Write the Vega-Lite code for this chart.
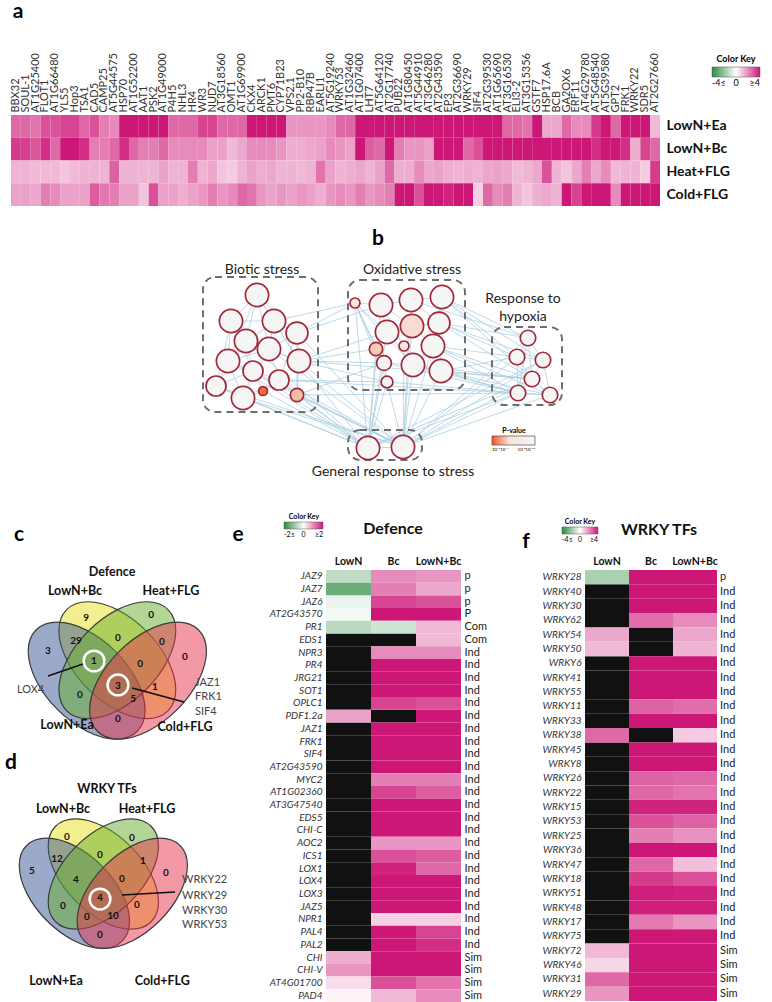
{
  "$schema": "https://vega.github.io/schema/vega-lite/v6.json",
  "background": "white",
  "padding": {"left": 5, "top": 1, "right": 0, "bottom": 0},
  "config": {"font": "Lato", "view": {"stroke": null}},
  "datasets": {
    "heatA": [
      {"g":"BBX32","LowN+Ea":2.6,"LowN+Bc":3.4,"Heat+FLG":1.3,"Cold+FLG":1.6},
      {"g":"SOUL-1","LowN+Ea":2.6,"LowN+Bc":3.3,"Heat+FLG":1.3,"Cold+FLG":1.6},
      {"g":"AT1G25400","LowN+Ea":2.4,"LowN+Bc":2.9,"Heat+FLG":1.2,"Cold+FLG":1.5},
      {"g":"FLOT1","LowN+Ea":3.0,"LowN+Bc":3.6,"Heat+FLG":1.2,"Cold+FLG":2.2},
      {"g":"AT1G66480","LowN+Ea":3.0,"LowN+Bc":2.6,"Heat+FLG":1.2,"Cold+FLG":2.0},
      {"g":"YLS5","LowN+Ea":3.2,"LowN+Bc":4,"Heat+FLG":1.0,"Cold+FLG":1.6},
      {"g":"Hop3","LowN+Ea":3.2,"LowN+Bc":4,"Heat+FLG":1.2,"Cold+FLG":1.6},
      {"g":"TSA1","LowN+Ea":2.6,"LowN+Bc":3.6,"Heat+FLG":1.3,"Cold+FLG":1.6},
      {"g":"CAD5","LowN+Ea":3.0,"LowN+Bc":2.2,"Heat+FLG":1.3,"Cold+FLG":2.8},
      {"g":"CAMP25","LowN+Ea":2.2,"LowN+Bc":2.2,"Heat+FLG":1.3,"Cold+FLG":2.3},
      {"g":"AT5G44575","LowN+Ea":2.0,"LowN+Bc":2.6,"Heat+FLG":2.7,"Cold+FLG":2.2},
      {"g":"HSP70","LowN+Ea":4,"LowN+Bc":3.6,"Heat+FLG":1.3,"Cold+FLG":1.6},
      {"g":"AT1G52200","LowN+Ea":4,"LowN+Bc":2.6,"Heat+FLG":1.3,"Cold+FLG":1.6},
      {"g":"AAT1","LowN+Ea":4,"LowN+Bc":2.2,"Heat+FLG":1.3,"Cold+FLG":1.0},
      {"g":"PSK2","LowN+Ea":4,"LowN+Bc":2.2,"Heat+FLG":1.3,"Cold+FLG":3.0},
      {"g":"AT1G49000","LowN+Ea":4,"LowN+Bc":2.6,"Heat+FLG":1.6,"Cold+FLG":1.6},
      {"g":"P4H5","LowN+Ea":2.6,"LowN+Bc":2.0,"Heat+FLG":1.3,"Cold+FLG":1.6},
      {"g":"NHL3","LowN+Ea":2.6,"LowN+Bc":2.0,"Heat+FLG":1.3,"Cold+FLG":1.4},
      {"g":"HR4","LowN+Ea":2.6,"LowN+Bc":2.0,"Heat+FLG":2.2,"Cold+FLG":1.6},
      {"g":"WR3","LowN+Ea":3.2,"LowN+Bc":2.0,"Heat+FLG":1.3,"Cold+FLG":1.8},
      {"g":"NUD7","LowN+Ea":3.2,"LowN+Bc":1.6,"Heat+FLG":1.5,"Cold+FLG":2.2},
      {"g":"AT3G18560","LowN+Ea":2.6,"LowN+Bc":1.6,"Heat+FLG":1.0,"Cold+FLG":1.8},
      {"g":"OMT1","LowN+Ea":2.6,"LowN+Bc":1.2,"Heat+FLG":0.9,"Cold+FLG":2.0},
      {"g":"AT1G69900","LowN+Ea":2.6,"LowN+Bc":1.5,"Heat+FLG":1.3,"Cold+FLG":2.6},
      {"g":"CKX4","LowN+Ea":4,"LowN+Bc":2.0,"Heat+FLG":1.6,"Cold+FLG":2.4},
      {"g":"ARCK1","LowN+Ea":4,"LowN+Bc":2.0,"Heat+FLG":1.4,"Cold+FLG":1.8},
      {"g":"PMT6","LowN+Ea":4,"LowN+Bc":2.0,"Heat+FLG":1.5,"Cold+FLG":1.6},
      {"g":"CYP71B23","LowN+Ea":4,"LowN+Bc":1.8,"Heat+FLG":1.3,"Cold+FLG":1.8},
      {"g":"VPS2.1","LowN+Ea":1.8,"LowN+Bc":1.4,"Heat+FLG":1.3,"Cold+FLG":1.6},
      {"g":"PP2-B10","LowN+Ea":1.8,"LowN+Bc":1.4,"Heat+FLG":1.2,"Cold+FLG":1.8},
      {"g":"RBP47B","LowN+Ea":1.8,"LowN+Bc":1.5,"Heat+FLG":1.3,"Cold+FLG":1.6},
      {"g":"EARLI1","LowN+Ea":1.8,"LowN+Bc":1.6,"Heat+FLG":2.4,"Cold+FLG":1.4},
      {"g":"AT5G19240","LowN+Ea":2.0,"LowN+Bc":2.0,"Heat+FLG":1.6,"Cold+FLG":1.8},
      {"g":"WRKY53","LowN+Ea":2.6,"LowN+Bc":1.8,"Heat+FLG":1.3,"Cold+FLG":2.0},
      {"g":"AT1G32460","LowN+Ea":2.6,"LowN+Bc":1.6,"Heat+FLG":1.4,"Cold+FLG":1.8},
      {"g":"AT1G07400","LowN+Ea":4,"LowN+Bc":4,"Heat+FLG":1.5,"Cold+FLG":2.2},
      {"g":"LHT7","LowN+Ea":4,"LowN+Bc":2.8,"Heat+FLG":1.3,"Cold+FLG":1.8},
      {"g":"AT5G64120","LowN+Ea":4,"LowN+Bc":2.6,"Heat+FLG":1.6,"Cold+FLG":2.0},
      {"g":"AT2G17740","LowN+Ea":4,"LowN+Bc":4,"Heat+FLG":2.6,"Cold+FLG":2.2},
      {"g":"PUB22","LowN+Ea":4,"LowN+Bc":2.2,"Heat+FLG":1.4,"Cold+FLG":4},
      {"g":"AT1G80450","LowN+Ea":4,"LowN+Bc":1.8,"Heat+FLG":1.4,"Cold+FLG":4},
      {"g":"AT5G44910","LowN+Ea":4,"LowN+Bc":1.8,"Heat+FLG":2.0,"Cold+FLG":3.0},
      {"g":"AT3G46280","LowN+Ea":4,"LowN+Bc":1.6,"Heat+FLG":1.5,"Cold+FLG":4},
      {"g":"AT2G43590","LowN+Ea":4,"LowN+Bc":4,"Heat+FLG":1.6,"Cold+FLG":4},
      {"g":"EP3","LowN+Ea":4,"LowN+Bc":4,"Heat+FLG":1.4,"Cold+FLG":3.8},
      {"g":"AT2G36690","LowN+Ea":4,"LowN+Bc":4,"Heat+FLG":1.3,"Cold+FLG":4},
      {"g":"WRKY29","LowN+Ea":4,"LowN+Bc":2.6,"Heat+FLG":1.4,"Cold+FLG":4},
      {"g":"SIF4","LowN+Ea":4,"LowN+Bc":3.0,"Heat+FLG":1.3,"Cold+FLG":0.8},
      {"g":"AT2G39530","LowN+Ea":4,"LowN+Bc":4,"Heat+FLG":1.5,"Cold+FLG":2.6},
      {"g":"AT1G65690","LowN+Ea":4,"LowN+Bc":4,"Heat+FLG":1.6,"Cold+FLG":2.0},
      {"g":"AT3G16530","LowN+Ea":2.6,"LowN+Bc":4,"Heat+FLG":1.5,"Cold+FLG":2.2},
      {"g":"ELI3-2","LowN+Ea":2.6,"LowN+Bc":4,"Heat+FLG":1.2,"Cold+FLG":1.3},
      {"g":"AT3G15356","LowN+Ea":2.4,"LowN+Bc":4,"Heat+FLG":1.3,"Cold+FLG":1.0},
      {"g":"GSTF7","LowN+Ea":4,"LowN+Bc":4,"Heat+FLG":1.5,"Cold+FLG":1.4},
      {"g":"HSP17.6A","LowN+Ea":1.5,"LowN+Bc":4,"Heat+FLG":3.0,"Cold+FLG":1.5},
      {"g":"BCB","LowN+Ea":1.5,"LowN+Bc":4,"Heat+FLG":1.3,"Cold+FLG":1.3},
      {"g":"GA2OX6","LowN+Ea":2.6,"LowN+Bc":4,"Heat+FLG":1.0,"Cold+FLG":4},
      {"g":"ERF11","LowN+Ea":2.0,"LowN+Bc":4,"Heat+FLG":1.5,"Cold+FLG":3.2},
      {"g":"AT4G29780","LowN+Ea":2.0,"LowN+Bc":4,"Heat+FLG":2.2,"Cold+FLG":4},
      {"g":"AT5G48540","LowN+Ea":3.4,"LowN+Bc":3.6,"Heat+FLG":1.5,"Cold+FLG":4},
      {"g":"AT5G39580","LowN+Ea":4,"LowN+Bc":4,"Heat+FLG":2.0,"Cold+FLG":4},
      {"g":"GPT2","LowN+Ea":2.6,"LowN+Bc":4,"Heat+FLG":1.2,"Cold+FLG":2.0},
      {"g":"FRK1","LowN+Ea":4,"LowN+Bc":3.6,"Heat+FLG":1.3,"Cold+FLG":4},
      {"g":"WRKY22","LowN+Ea":4,"LowN+Bc":1.4,"Heat+FLG":1.3,"Cold+FLG":4},
      {"g":"SDR5","LowN+Ea":4,"LowN+Bc":3.2,"Heat+FLG":0.9,"Cold+FLG":4},
      {"g":"AT2G27660","LowN+Ea":1.2,"LowN+Bc":2.6,"Heat+FLG":3.4,"Cold+FLG":4}
    ],
    "nodes": [
      {"id":"B1","x":61.5,"y":46.25,"genes":27,"logp":12},
      {"id":"B2","x":55,"y":39.75,"genes":27,"logp":12},
      {"id":"B3","x":65.75,"y":39.75,"genes":27,"logp":12},
      {"id":"B4","x":71.5,"y":36.75,"genes":24,"logp":12},
      {"id":"B5","x":58.75,"y":34.75,"genes":27,"logp":12},
      {"id":"B6","x":64.5,"y":32.75,"genes":27,"logp":12},
      {"id":"B7","x":54.25,"y":29.75,"genes":27,"logp":12},
      {"id":"B8","x":72,"y":29.75,"genes":27,"logp":12},
      {"id":"B9","x":60.5,"y":27.25,"genes":20,"logp":12},
      {"id":"B10","x":67,"y":25,"genes":20,"logp":12},
      {"id":"B11","x":51.25,"y":23.5,"genes":20,"logp":12},
      {"id":"B12","x":58,"y":20.5,"genes":27,"logp":12},
      {"id":"B13","x":63,"y":22.25,"genes":4,"logp":2.3},
      {"id":"B14","x":71.5,"y":21.25,"genes":9,"logp":4.0},
      {"id":"O1","x":86,"y":44.25,"genes":5,"logp":6},
      {"id":"O2","x":92.5,"y":43.75,"genes":27,"logp":12},
      {"id":"O3","x":100,"y":45,"genes":27,"logp":12},
      {"id":"O4","x":107.75,"y":45.75,"genes":27,"logp":12},
      {"id":"O5","x":94,"y":37,"genes":27,"logp":12},
      {"id":"O6","x":100.25,"y":38.5,"genes":27,"logp":4.8},
      {"id":"O7","x":107,"y":39.25,"genes":24,"logp":12},
      {"id":"O8","x":91.25,"y":32.75,"genes":9,"logp":4.3},
      {"id":"O9","x":98.25,"y":33.5,"genes":5,"logp":6},
      {"id":"O10","x":105.5,"y":33.5,"genes":27,"logp":12},
      {"id":"O11","x":93.25,"y":29.25,"genes":11,"logp":12},
      {"id":"O12","x":100.5,"y":28.75,"genes":27,"logp":12},
      {"id":"O13","x":107.5,"y":27.25,"genes":27,"logp":12},
      {"id":"O14","x":94,"y":24.5,"genes":7,"logp":12},
      {"id":"H1","x":129.25,"y":35.5,"genes":12,"logp":12},
      {"id":"H2","x":126.5,"y":30.75,"genes":12,"logp":12},
      {"id":"H3","x":133,"y":30,"genes":12,"logp":12},
      {"id":"H4","x":130.25,"y":25.25,"genes":12,"logp":12},
      {"id":"H5","x":126.75,"y":21.75,"genes":12,"logp":12},
      {"id":"H6","x":134.75,"y":21.25,"genes":12,"logp":12},
      {"id":"G1","x":89.25,"y":8,"genes":27,"logp":12},
      {"id":"G2","x":98,"y":8.25,"genes":27,"logp":12}
    ],
    "edges": [
      {"s":"B1","t":"B2"},{"s":"B1","t":"B3"},{"s":"B1","t":"B5"},{"s":"B1","t":"B6"},{"s":"B1","t":"B4"},{"s":"B1","t":"B7"},
      {"s":"B2","t":"B3"},{"s":"B2","t":"B5"},{"s":"B2","t":"B7"},{"s":"B2","t":"B6"},{"s":"B3","t":"B4"},{"s":"B3","t":"B5"},
      {"s":"B3","t":"B6"},{"s":"B3","t":"B8"},{"s":"B4","t":"B6"},{"s":"B4","t":"B8"},{"s":"B5","t":"B6"},{"s":"B5","t":"B7"},
      {"s":"B5","t":"B9"},{"s":"B6","t":"B8"},{"s":"B6","t":"B9"},{"s":"B6","t":"B10"},{"s":"B7","t":"B9"},{"s":"B7","t":"B11"},
      {"s":"B7","t":"B12"},{"s":"B8","t":"B10"},{"s":"B8","t":"B14"},{"s":"B9","t":"B10"},{"s":"B9","t":"B12"},{"s":"B9","t":"B13"},
      {"s":"B10","t":"B13"},{"s":"B10","t":"B14"},{"s":"B11","t":"B12"},{"s":"B11","t":"B9"},{"s":"B12","t":"B13"},{"s":"B2","t":"B11"},
      {"s":"B4","t":"B10"},{"s":"B3","t":"B7"},{"s":"B5","t":"B8"},{"s":"B6","t":"B12"},{"s":"B1","t":"B8"},{"s":"B2","t":"B9"},
      {"s":"B11","t":"B5"},{"s":"B12","t":"B10"},{"s":"B7","t":"B6"},{"s":"B4","t":"B14"},
      {"s":"O1","t":"O2"},{"s":"O1","t":"O5"},{"s":"O1","t":"O8"},{"s":"O1","t":"O11"},{"s":"O1","t":"O14"},{"s":"O2","t":"O3"},
      {"s":"O2","t":"O5"},{"s":"O3","t":"O4"},{"s":"O3","t":"O6"},{"s":"O3","t":"O7"},{"s":"O4","t":"O7"},{"s":"O5","t":"O6"},
      {"s":"O5","t":"O8"},{"s":"O6","t":"O7"},{"s":"O6","t":"O9"},{"s":"O6","t":"O10"},{"s":"O7","t":"O10"},{"s":"O8","t":"O11"},
      {"s":"O9","t":"O12"},{"s":"O10","t":"O12"},{"s":"O10","t":"O13"},{"s":"O11","t":"O12"},{"s":"O12","t":"O13"},{"s":"O11","t":"O14"},
      {"s":"O2","t":"O6"},{"s":"O4","t":"O10"},{"s":"O5","t":"O12"},{"s":"O7","t":"O13"},{"s":"O1","t":"O12"},{"s":"O2","t":"O9"},
      {"s":"H1","t":"H2"},{"s":"H1","t":"H3"},{"s":"H1","t":"H4"},{"s":"H2","t":"H3"},{"s":"H2","t":"H4"},{"s":"H2","t":"H5"},
      {"s":"H3","t":"H4"},{"s":"H3","t":"H6"},{"s":"H4","t":"H5"},{"s":"H4","t":"H6"},{"s":"H5","t":"H6"},{"s":"H1","t":"H5"},
      {"s":"G1","t":"G2"},
      {"s":"B7","t":"G1"},{"s":"B11","t":"G1"},{"s":"B12","t":"G1"},{"s":"B9","t":"G1"},{"s":"B13","t":"G1"},{"s":"B10","t":"G1"},
      {"s":"B14","t":"G1"},{"s":"B8","t":"G1"},{"s":"B12","t":"G2"},{"s":"B10","t":"G2"},{"s":"B14","t":"G2"},{"s":"B8","t":"G2"},
      {"s":"B11","t":"G2"},{"s":"B4","t":"G2"},{"s":"B6","t":"G2"},{"s":"B9","t":"G2"},{"s":"B7","t":"G2"},{"s":"B5","t":"G1"},
      {"s":"O14","t":"G1"},{"s":"O11","t":"G1"},{"s":"O12","t":"G2"},{"s":"O13","t":"G2"},{"s":"O8","t":"G1"},{"s":"O10","t":"G2"},
      {"s":"O9","t":"G2"},{"s":"O1","t":"G1"},{"s":"O5","t":"G1"},{"s":"O6","t":"G2"},{"s":"O14","t":"G2"},{"s":"O2","t":"G1"},{"s":"O3","t":"G2"},
      {"s":"H5","t":"G2"},{"s":"H2","t":"G2"},{"s":"H4","t":"G2"},{"s":"H6","t":"G2"},{"s":"H1","t":"G2"},{"s":"H3","t":"G1"},{"s":"H5","t":"G1"},
      {"s":"H4","t":"G1"},{"s":"H3","t":"G2"},
      {"s":"O4","t":"H1"},{"s":"O4","t":"H3"},{"s":"O7","t":"H1"},{"s":"O7","t":"H2"},{"s":"O10","t":"H2"},{"s":"O10","t":"H4"},
      {"s":"O13","t":"H4"},{"s":"O13","t":"H5"},{"s":"O13","t":"H6"},{"s":"O7","t":"H3"},{"s":"O3","t":"H1"},{"s":"O4","t":"H6"},
      {"s":"O10","t":"H5"},{"s":"O12","t":"H5"},{"s":"O13","t":"H2"},{"s":"O7","t":"H4"},{"s":"O14","t":"H5"},{"s":"O11","t":"H5"},
      {"s":"O12","t":"H4"},{"s":"O4","t":"H2"},{"s":"O10","t":"H6"},
      {"s":"B4","t":"O1"},{"s":"B8","t":"O8"},{"s":"B14","t":"O11"},{"s":"B8","t":"O14"},{"s":"B3","t":"O1"},{"s":"B10","t":"O14"},
      {"s":"B4","t":"O2"},{"s":"B8","t":"O5"},{"s":"B8","t":"O11"},
      {"s":"B14","t":"H5"},{"s":"B10","t":"H6"},{"s":"B8","t":"H4"}
    ],
    "boxes": [
      {"name":"Biotic stress","x0":48,"x1":76.75,"y0":17,"y1":50.75},
      {"name":"Oxidative stress","x0":84.25,"x1":113.5,"y0":22.5,"y1":50},
      {"name":"Response to hypoxia","x0":120.25,"x1":137.75,"y0":18.75,"y1":38.25},
      {"name":"General response to stress","x0":84.25,"x1":102.75,"y0":5,"y1":12.5}
    ],
    "setsC": [
      {"set":"LowN+Bc","cx":0.5,"cy":0.57},
      {"set":"LowN+Ea","cx":0.35,"cy":0.47},
      {"set":"Heat+FLG","cx":0.5,"cy":0.57},
      {"set":"Cold+FLG","cx":0.65,"cy":0.47}
    ],
    "setsD": [
      {"set":"LowN+Bc","cx":0.4316,"cy":-0.4755},
      {"set":"LowN+Ea","cx":0.29,"cy":-0.57},
      {"set":"Heat+FLG","cx":0.4316,"cy":-0.4755},
      {"set":"Cold+FLG","cx":0.573,"cy":-0.57}
    ],
    "heatE": [
      {"gene":"JAZ9","LowN":-0.6,"Bc":1.0,"LowN+Bc":0.9,"cls":"p"},
      {"gene":"JAZ7","LowN":-1.4,"Bc":1.1,"LowN+Bc":0.75,"cls":"p"},
      {"gene":"JAZ6","LowN":-0.2,"Bc":1.6,"LowN+Bc":1.5,"cls":"p"},
      {"gene":"AT2G43570","LowN":-0.12,"Bc":2,"LowN+Bc":2,"cls":"P"},
      {"gene":"PR1","LowN":-0.65,"Bc":-0.45,"LowN+Bc":0.6,"cls":"Com"},
      {"gene":"EDS1","LowN":null,"Bc":null,"LowN+Bc":0.6,"cls":"Com"},
      {"gene":"NPR3","LowN":null,"Bc":1.0,"LowN+Bc":1.0,"cls":"Ind"},
      {"gene":"PR4","LowN":null,"Bc":2,"LowN+Bc":2,"cls":"Ind"},
      {"gene":"JRG21","LowN":null,"Bc":2,"LowN+Bc":2,"cls":"Ind"},
      {"gene":"SOT1","LowN":null,"Bc":2,"LowN+Bc":2,"cls":"Ind"},
      {"gene":"OPLC1","LowN":null,"Bc":1.6,"LowN+Bc":1.5,"cls":"Ind"},
      {"gene":"PDF1.2a","LowN":0.8,"Bc":null,"LowN+Bc":2,"cls":"Ind"},
      {"gene":"JAZ1","LowN":null,"Bc":2,"LowN+Bc":2,"cls":"Ind"},
      {"gene":"FRK1","LowN":null,"Bc":2,"LowN+Bc":2,"cls":"Ind"},
      {"gene":"SIF4","LowN":null,"Bc":2,"LowN+Bc":2,"cls":"Ind"},
      {"gene":"AT2G43590","LowN":null,"Bc":2,"LowN+Bc":2,"cls":"Ind"},
      {"gene":"MYC2","LowN":null,"Bc":1.1,"LowN+Bc":1.1,"cls":"Ind"},
      {"gene":"AT1G02360","LowN":null,"Bc":1.6,"LowN+Bc":1.4,"cls":"Ind"},
      {"gene":"AT3G47540","LowN":null,"Bc":2,"LowN+Bc":2,"cls":"Ind"},
      {"gene":"EDS5","LowN":null,"Bc":2,"LowN+Bc":2,"cls":"Ind"},
      {"gene":"CHI-C","LowN":null,"Bc":2,"LowN+Bc":2,"cls":"Ind"},
      {"gene":"AOC2","LowN":null,"Bc":0.9,"LowN+Bc":0.9,"cls":"Ind"},
      {"gene":"ICS1","LowN":null,"Bc":1.5,"LowN+Bc":1.4,"cls":"Ind"},
      {"gene":"LOX1","LowN":null,"Bc":1.9,"LowN+Bc":1.3,"cls":"Ind"},
      {"gene":"LOX4","LowN":null,"Bc":2,"LowN+Bc":2,"cls":"Ind"},
      {"gene":"LOX3","LowN":null,"Bc":2,"LowN+Bc":2,"cls":"Ind"},
      {"gene":"JAZ5","LowN":null,"Bc":2,"LowN+Bc":2,"cls":"Ind"},
      {"gene":"NPR1","LowN":null,"Bc":0.4,"LowN+Bc":0.4,"cls":"Ind"},
      {"gene":"PAL4","LowN":null,"Bc":2,"LowN+Bc":1.6,"cls":"Ind"},
      {"gene":"PAL2","LowN":null,"Bc":2,"LowN+Bc":1.8,"cls":"Ind"},
      {"gene":"CHI","LowN":0.7,"Bc":2,"LowN+Bc":2,"cls":"Sim"},
      {"gene":"CHI-V","LowN":0.9,"Bc":2,"LowN+Bc":2,"cls":"Sim"},
      {"gene":"AT4G01700","LowN":0.3,"Bc":1.5,"LowN+Bc":1.2,"cls":"Sim"},
      {"gene":"PAD4","LowN":0.1,"Bc":0.6,"LowN+Bc":1.0,"cls":"Sim"}
    ],
    "heatF": [
      {"gene":"WRKY28","LowN":-1.6,"Bc":4,"LowN+Bc":4,"cls":"p"},
      {"gene":"WRKY40","LowN":null,"Bc":4,"LowN+Bc":4,"cls":"Ind"},
      {"gene":"WRKY30","LowN":null,"Bc":4,"LowN+Bc":4,"cls":"Ind"},
      {"gene":"WRKY62","LowN":null,"Bc":2.5,"LowN+Bc":2.0,"cls":"Ind"},
      {"gene":"WRKY54","LowN":1.5,"Bc":null,"LowN+Bc":1.5,"cls":"Ind"},
      {"gene":"WRKY50","LowN":1.2,"Bc":null,"LowN+Bc":1.3,"cls":"Ind"},
      {"gene":"WRKY6","LowN":null,"Bc":4,"LowN+Bc":4,"cls":"Ind"},
      {"gene":"WRKY41","LowN":null,"Bc":4,"LowN+Bc":4,"cls":"Ind"},
      {"gene":"WRKY55","LowN":null,"Bc":4,"LowN+Bc":4,"cls":"Ind"},
      {"gene":"WRKY11","LowN":null,"Bc":2.7,"LowN+Bc":2.5,"cls":"Ind"},
      {"gene":"WRKY33","LowN":null,"Bc":4,"LowN+Bc":4,"cls":"Ind"},
      {"gene":"WRKY38","LowN":2.6,"Bc":null,"LowN+Bc":0.9,"cls":"Ind"},
      {"gene":"WRKY45","LowN":null,"Bc":4,"LowN+Bc":4,"cls":"Ind"},
      {"gene":"WRKY8","LowN":null,"Bc":4,"LowN+Bc":4,"cls":"Ind"},
      {"gene":"WRKY26","LowN":null,"Bc":2.7,"LowN+Bc":2.6,"cls":"Ind"},
      {"gene":"WRKY22","LowN":null,"Bc":2.6,"LowN+Bc":2.4,"cls":"Ind"},
      {"gene":"WRKY15","LowN":null,"Bc":3.8,"LowN+Bc":3.8,"cls":"Ind"},
      {"gene":"WRKY53","LowN":null,"Bc":3.0,"LowN+Bc":2.7,"cls":"Ind"},
      {"gene":"WRKY25","LowN":null,"Bc":2.2,"LowN+Bc":1.9,"cls":"Ind"},
      {"gene":"WRKY36","LowN":null,"Bc":4,"LowN+Bc":4,"cls":"Ind"},
      {"gene":"WRKY47","LowN":null,"Bc":2.6,"LowN+Bc":1.1,"cls":"Ind"},
      {"gene":"WRKY18","LowN":null,"Bc":3.4,"LowN+Bc":3.0,"cls":"Ind"},
      {"gene":"WRKY51","LowN":null,"Bc":3.9,"LowN+Bc":3.8,"cls":"Ind"},
      {"gene":"WRKY48","LowN":null,"Bc":3.9,"LowN+Bc":3.9,"cls":"Ind"},
      {"gene":"WRKY17","LowN":null,"Bc":2.3,"LowN+Bc":1.8,"cls":"Ind"},
      {"gene":"WRKY75","LowN":null,"Bc":4,"LowN+Bc":4,"cls":"Ind"},
      {"gene":"WRKY72","LowN":1.2,"Bc":4,"LowN+Bc":4,"cls":"Sim"},
      {"gene":"WRKY46","LowN":0.7,"Bc":4,"LowN+Bc":4,"cls":"Sim"},
      {"gene":"WRKY31","LowN":2.6,"Bc":4,"LowN+Bc":4,"cls":"Sim"},
      {"gene":"WRKY29","LowN":1.8,"Bc":4,"LowN+Bc":4,"cls":"Sim"}
    ]
  },
  "spacing": 28,
  "bounds": "flush",
  "resolve": {"scale": {"color": "independent", "fill": "independent", "size": "independent", "shape": "independent"}, "legend": {"color": "independent", "fill": "independent"}},
  "vconcat": [
    {
      "width": 649,
      "height": 91,
      "data": {"name": "heatA"},
      "transform": [{"fold": ["LowN+Ea", "LowN+Bc", "Heat+FLG", "Cold+FLG"], "as": ["cond", "v"]}],
      "mark": {"type": "rect"},
      "encoding": {
        "x": {"field": "g", "type": "nominal", "sort": null, "scale": {"paddingInner": 0, "paddingOuter": 0},
              "axis": {"orient": "top", "title": null, "labelAngle": -90, "labelFontSize": 11, "labelPadding": 3, "ticks": false, "domain": false, "labelColor": "#333", "labelOverlap": false}},
        "y": {"field": "cond", "type": "nominal", "sort": ["LowN+Ea", "LowN+Bc", "Heat+FLG", "Cold+FLG"], "scale": {"paddingInner": 0, "paddingOuter": 0},
              "axis": {"orient": "right", "title": null, "labelFontSize": 14, "labelFontWeight": "bold", "labelPadding": 6, "ticks": false, "domain": false, "labelColor": "#111"}},
        "color": {"field": "v", "type": "quantitative",
                  "scale": {"domain": [-4, 0, 4], "range": ["#2a8a3e", "#ffffff", "#cd1777"], "clamp": true, "interpolate": "rgb"},
                  "legend": {"orient": "none", "legendX": 701, "legendY": -60, "direction": "horizontal", "title": "Color Key", "titleFontSize": 9, "titleFontWeight": "bold", "titleAnchor": "middle", "titlePadding": 3, "gradientLength": 48, "gradientThickness": 10, "values": [-4, 0, 4], "labelExpr": "datum.value <= -4 ? '-4≤' : datum.value >= 4 ? '≥4' : '0'", "labelFontSize": 9, "labelOverlap": false, "gradientStrokeColor": "#555", "gradientStrokeWidth": 0.5}}
      }
    },
    {
      "width": 650,
      "height": 308,
      "layer": [
        {
          "data": {"name": "edges"},
          "transform": [
            {"lookup": "s", "from": {"data": {"name": "nodes"}, "key": "id", "fields": ["x", "y"]}, "as": ["sx", "sy"]},
            {"lookup": "t", "from": {"data": {"name": "nodes"}, "key": "id", "fields": ["x", "y"]}, "as": ["tx", "ty"]}
          ],
          "mark": {"type": "rule", "color": "#a9cde0", "strokeWidth": 0.9, "opacity": 0.85},
          "encoding": {
            "x": {"field": "sx", "type": "quantitative", "scale": {"domain": [0, 162.5], "nice": false, "zero": false}, "axis": null},
            "y": {"field": "sy", "type": "quantitative", "scale": {"domain": [-15.5, 61.5], "nice": false, "zero": false}, "axis": null},
            "x2": {"field": "tx"},
            "y2": {"field": "ty"}
          }
        },
        {
          "data": {"name": "boxes"},
          "mark": {"type": "rect", "filled": false, "color": "#6e6e6e", "strokeWidth": 2, "strokeDash": [7, 5], "cornerRadius": 12},
          "encoding": {
            "x": {"field": "x0", "type": "quantitative", "scale": {"domain": [0, 162.5], "nice": false, "zero": false}, "axis": null},
            "x2": {"field": "x1"},
            "y": {"field": "y0", "type": "quantitative", "scale": {"domain": [-15.5, 61.5], "nice": false, "zero": false}, "axis": null},
            "y2": {"field": "y1"}
          }
        },
        {
          "data": {"name": "nodes"},
          "mark": {"type": "point", "filled": true, "shape": "circle", "stroke": "#a3283a", "strokeWidth": 1.7, "opacity": 1},
          "encoding": {
            "x": {"field": "x", "type": "quantitative", "scale": {"domain": [0, 162.5], "nice": false, "zero": false}, "axis": null},
            "y": {"field": "y", "type": "quantitative", "scale": {"domain": [-15.5, 61.5], "nice": false, "zero": false}, "axis": null},
            "size": {"field": "genes", "type": "quantitative", "scale": {"domain": [0, 30], "range": [0, 600], "zero": true}, "legend": null},
            "fill": {"field": "logp", "type": "quantitative",
                     "scale": {"type": "sqrt", "domain": [2, 5, 12], "range": ["#ef5a28", "#f8e4dc", "#f6f5f5"], "interpolate": "rgb", "zero": false},
                     "legend": {"orient": "none", "legendX": 481, "legendY": 193, "direction": "horizontal", "title": "P-value", "titleFontSize": 7, "titleFontWeight": "bold", "titleAnchor": "middle", "titlePadding": 2, "gradientLength": 43, "gradientThickness": 9, "values": [2, 4, 8, 12], "labelExpr": "datum.value == 2 ? '10⁻²' : datum.value == 4 ? '10⁻⁴' : datum.value == 8 ? '10⁻⁸' : '10⁻¹²'", "labelFontSize": 4.5, "labelAlign": "center", "labelOverlap": false, "gradientStrokeColor": "#333", "gradientStrokeWidth": 0.6}}
          }
        },
        {
          "data": {"values": [
            {"t": "Biotic stress", "x": 62.75, "y": 52.5},
            {"t": "Oxidative stress", "x": 100.25, "y": 52.5},
            {"t": "Response to", "x": 128, "y": 45.25},
            {"t": "hypoxia", "x": 128, "y": 40.75},
            {"t": "General response to stress", "x": 95.5, "y": 2}
          ]},
          "mark": {"type": "text", "fontSize": 14, "color": "#222", "baseline": "middle"},
          "encoding": {
            "x": {"field": "x", "type": "quantitative", "scale": {"domain": [0, 162.5], "nice": false, "zero": false}, "axis": null},
            "y": {"field": "y", "type": "quantitative", "scale": {"domain": [-15.5, 61.5], "nice": false, "zero": false}, "axis": null},
            "text": {"field": "t"}
          }
        },
        {
          "data": {"values": [
            {"t": "Defence", "x": 95.5, "y": -12.25},
            {"t": "WRKY TFs", "x": 162, "y": -12.5}
          ]},
          "mark": {"type": "text", "fontSize": 16, "fontWeight": "bold", "color": "#111", "baseline": "middle"},
          "encoding": {
            "x": {"field": "x", "type": "quantitative", "scale": {"domain": [0, 162.5], "nice": false, "zero": false}, "axis": null},
            "y": {"field": "y", "type": "quantitative", "scale": {"domain": [-15.5, 61.5], "nice": false, "zero": false}, "axis": null},
            "text": {"field": "t"}
          }
        },
        {
          "data": {"values": [
            {"t": "a", "x": 1.75, "y": 117},
            {"t": "b", "x": 91.75, "y": 60.25},
            {"t": "c", "x": 2, "y": -13.75},
            {"t": "d", "x": 0, "y": -70.75},
            {"t": "e", "x": 56.75, "y": -13.75},
            {"t": "f", "x": 128.75, "y": -15.5}
          ]},
          "mark": {"type": "text", "fontSize": 21, "fontWeight": "bold", "color": "#000", "baseline": "middle"},
          "encoding": {
            "x": {"field": "x", "type": "quantitative", "scale": {"domain": [0, 162.5], "nice": false, "zero": false}, "axis": null},
            "y": {"field": "y", "type": "quantitative", "scale": {"domain": [-15.5, 61.5], "nice": false, "zero": false}, "axis": null},
            "text": {"field": "t"}
          }
        }
      ]
    },
    {
      "spacing": 124,
      "bounds": "flush",
      "resolve": {"scale": {"color": "independent", "fill": "independent", "size": "independent", "shape": "independent"}, "legend": {"color": "independent", "fill": "independent"}},
      "hconcat": [
        {
          "width": 191,
          "height": 432,
          "layer": [
            {
              "data": {"name": "setsC"},
              "mark": {"type": "point", "filled": true, "size": 20500, "opacity": 1, "fillOpacity": 0.5, "stroke": "#3c3c3c", "strokeWidth": 1.2},
              "encoding": {
                "x": {"field": "cx", "type": "quantitative", "scale": {"domain": [-0.02, 0.914], "nice": false, "zero": false}, "axis": null},
                "y": {"field": "cy", "type": "quantitative", "scale": {"domain": [-1.1014, 1.011], "nice": false, "zero": false}, "axis": null},
                "shape": {"field": "set", "type": "nominal", "scale": {"domain": ["LowN+Ea", "LowN+Bc", "Heat+FLG", "Cold+FLG"], "range": ["M -0.7071 -0.7071 A 1 0.5714 45 1 1 0.7071 0.7071 A 1 0.5714 45 1 1 -0.7071 -0.7071 Z", "M -0.7071 -0.7071 A 1 0.5714 45 1 1 0.7071 0.7071 A 1 0.5714 45 1 1 -0.7071 -0.7071 Z", "M 0.7071 -0.7071 A 1 0.5714 -45 1 1 -0.7071 0.7071 A 1 0.5714 -45 1 1 0.7071 -0.7071 Z", "M 0.7071 -0.7071 A 1 0.5714 -45 1 1 -0.7071 0.7071 A 1 0.5714 -45 1 1 0.7071 -0.7071 Z"]}, "legend": null},
                "fill": {"field": "set", "type": "nominal", "scale": {"domain": ["LowN+Ea", "LowN+Bc", "Heat+FLG", "Cold+FLG"], "range": ["#355591", "#e9df1d", "#67ad2d", "#e7314b"]}, "legend": null}
              }
            },
            {
              "data": {"name": "setsD"},
              "mark": {"type": "point", "filled": true, "size": 18260, "opacity": 1, "fillOpacity": 0.5, "stroke": "#3c3c3c", "strokeWidth": 1.2},
              "encoding": {
                "x": {"field": "cx", "type": "quantitative"},
                "y": {"field": "cy", "type": "quantitative"},
                "shape": {"field": "set", "type": "nominal"},
                "fill": {"field": "set", "type": "nominal"}
              }
            },
            {
              "data": {"values": [{"u": 0.386, "v": 0.566}, {"u": 0.503, "v": 0.449}, {"u": 0.4152, "v": -0.5978}]},
              "mark": {"type": "point", "shape": "circle", "filled": false, "size": 430, "stroke": "#ffffff", "strokeWidth": 2.5, "opacity": 1},
              "encoding": {
                "x": {"field": "u", "type": "quantitative"},
                "y": {"field": "v", "type": "quantitative"}
              }
            },
            {
              "data": {"values": [
                {"u": 0.161, "v": 0.493, "u2": 0.332, "v2": 0.551},
                {"u": 0.572, "v": 0.434, "u2": 0.826, "v2": 0.366},
                {"u": 0.5228, "v": -0.5783, "u2": 0.782, "v2": -0.5636}
              ]},
              "mark": {"type": "rule", "color": "#111", "strokeWidth": 1.6},
              "encoding": {
                "x": {"field": "u", "type": "quantitative"},
                "y": {"field": "v", "type": "quantitative"},
                "x2": {"field": "u2"},
                "y2": {"field": "v2"}
              }
            },
            {
              "data": {"values": [
                {"n": "9", "u": 0.347, "v": 0.776}, {"n": "0", "u": 0.665, "v": 0.791}, {"n": "3", "u": 0.161, "v": 0.615},
                {"n": "29", "u": 0.298, "v": 0.664}, {"n": "0", "u": 0.503, "v": 0.678}, {"n": "0", "u": 0.718, "v": 0.659},
                {"n": "0", "u": 0.831, "v": 0.586}, {"n": "1", "u": 0.386, "v": 0.566}, {"n": "0", "u": 0.611, "v": 0.551},
                {"n": "3", "u": 0.503, "v": 0.444}, {"n": "1", "u": 0.684, "v": 0.439}, {"n": "0", "u": 0.317, "v": 0.4},
                {"n": "5", "u": 0.577, "v": 0.38}, {"n": "0", "u": 0.503, "v": 0.282},
                {"n": "0", "u": 0.2538, "v": -0.2946}, {"n": "0", "u": 0.5717, "v": -0.2995}, {"n": "12", "u": 0.2049, "v": -0.4022},
                {"n": "0", "u": 0.4152, "v": -0.3826}, {"n": "1", "u": 0.6255, "v": -0.412}, {"n": "5", "u": 0.0827, "v": -0.4609},
                {"n": "4", "u": 0.2978, "v": -0.5049}, {"n": "0", "u": 0.5228, "v": -0.5}, {"n": "0", "u": 0.738, "v": -0.4707},
                {"n": "4", "u": 0.4152, "v": -0.5929}, {"n": "0", "u": 0.2343, "v": -0.632}, {"n": "0", "u": 0.5961, "v": -0.6271},
                {"n": "0", "u": 0.3516, "v": -0.6858}, {"n": "10", "u": 0.4788, "v": -0.6809}, {"n": "0", "u": 0.4152, "v": -0.7738}
              ]},
              "mark": {"type": "text", "fontSize": 10, "fontWeight": "bold", "color": "#111", "baseline": "middle"},
              "encoding": {
                "x": {"field": "u", "type": "quantitative"},
                "y": {"field": "v", "type": "quantitative"},
                "text": {"field": "n"}
              }
            },
            {
              "data": {"values": [
                {"t": "Defence", "u": 0.474, "v": 1.001},
                {"t": "LowN+Bc", "u": 0.293, "v": 0.908},
                {"t": "Heat+FLG", "u": 0.762, "v": 0.908},
                {"t": "LowN+Ea", "u": 0.254, "v": 0.255},
                {"t": "Cold+FLG", "u": 0.831, "v": 0.245},
                {"t": "WRKY TFs", "u": 0.4494, "v": -0.0599},
                {"t": "LowN+Bc", "u": 0.2343, "v": -0.1577},
                {"t": "Heat+FLG", "u": 0.645, "v": -0.1577},
                {"t": "LowN+Ea", "u": 0.2, "v": -1.0},
                {"t": "Cold+FLG", "u": 0.72, "v": -1.0}
              ]},
              "mark": {"type": "text", "fontSize": 12.5, "fontWeight": "bold", "color": "#111", "baseline": "middle"},
              "encoding": {
                "x": {"field": "u", "type": "quantitative"},
                "y": {"field": "v", "type": "quantitative"},
                "text": {"field": "t"}
              }
            },
            {
              "data": {"values": [
                {"t": "LOX4", "u": 0.009, "v": 0.424},
                {"t": "JAZ1", "u": 0.88, "v": 0.46},
                {"t": "FRK1", "u": 0.88, "v": 0.39},
                {"t": "SIF4", "u": 0.88, "v": 0.318},
                {"t": "WRKY22", "u": 0.8162, "v": -0.5049},
                {"t": "WRKY29", "u": 0.8162, "v": -0.5832},
                {"t": "WRKY30", "u": 0.8162, "v": -0.6565},
                {"t": "WRKY53", "u": 0.8162, "v": -0.7249}
              ]},
              "mark": {"type": "text", "fontSize": 11, "color": "#444", "align": "left", "baseline": "middle"},
              "encoding": {
                "x": {"field": "u", "type": "quantitative"},
                "y": {"field": "v", "type": "quantitative"},
                "text": {"field": "t"}
              }
            }
          ]
        },
        {
          "width": 135,
          "height": 432,
          "data": {"name": "heatE"},
          "layer": [
            {
              "transform": [{"fold": ["LowN", "Bc", "LowN+Bc"], "as": ["col", "v"]}, {"filter": "datum.v == null"}],
              "mark": {"type": "rect", "color": "#111111"},
              "encoding": {
                "x": {"field": "col", "type": "nominal", "scale": {"domain": ["LowN", "Bc", "LowN+Bc"], "paddingInner": 0, "paddingOuter": 0}, "axis": {"orient": "top", "title": null, "labelAngle": 0, "labelFontSize": 10.5, "labelFontWeight": "bold", "labelPadding": 4, "ticks": false, "domain": false, "labelColor": "#111"}},
                "y": {"field": "gene", "type": "nominal", "scale": {"domain": ["JAZ9","JAZ7","JAZ6","AT2G43570","PR1","EDS1","NPR3","PR4","JRG21","SOT1","OPLC1","PDF1.2a","JAZ1","FRK1","SIF4","AT2G43590","MYC2","AT1G02360","AT3G47540","EDS5","CHI-C","AOC2","ICS1","LOX1","LOX4","LOX3","JAZ5","NPR1","PAL4","PAL2","CHI","CHI-V","AT4G01700","PAD4"], "paddingInner": 0, "paddingOuter": 0}, "axis": {"title": null, "labelFontStyle": "italic", "labelFontSize": 10, "labelPadding": 4, "ticks": false, "domain": false, "labelColor": "#333"}}
              }
            },
            {
              "transform": [{"fold": ["LowN", "Bc", "LowN+Bc"], "as": ["col", "v"]}, {"filter": "datum.v != null"}],
              "mark": {"type": "rect"},
              "encoding": {
                "x": {"field": "col", "type": "nominal"},
                "y": {"field": "gene", "type": "nominal"},
                "color": {"field": "v", "type": "quantitative",
                          "scale": {"domain": [-2, 0, 2], "range": ["#2a8a3e", "#ffffff", "#cd1777"], "clamp": true, "interpolate": "rgb"},
                          "legend": {"orient": "none", "legendX": -42, "legendY": -57, "direction": "horizontal", "title": "Color Key", "titleFontSize": 7, "titleFontWeight": "bold", "titleAnchor": "middle", "titlePadding": 2, "gradientLength": 39, "gradientThickness": 7, "values": [-2, 0, 2], "labelExpr": "datum.value <= -2 ? '-2≤' : datum.value >= 2 ? '≥2' : '0'", "labelFontSize": 7, "labelOverlap": false, "gradientStrokeColor": "#555", "gradientStrokeWidth": 0.5}}
              }
            },
            {
              "mark": {"type": "text", "align": "left", "dx": 26, "fontSize": 11, "color": "#222"},
              "encoding": {
                "x": {"datum": "LowN+Bc", "type": "nominal"},
                "y": {"field": "gene", "type": "nominal"},
                "text": {"field": "cls"}
              }
            }
          ]
        },
        {
          "width": 132,
          "height": 431,
          "data": {"name": "heatF"},
          "layer": [
            {
              "transform": [{"fold": ["LowN", "Bc", "LowN+Bc"], "as": ["col", "v"]}, {"filter": "datum.v == null"}],
              "mark": {"type": "rect", "color": "#111111"},
              "encoding": {
                "x": {"field": "col", "type": "nominal", "scale": {"domain": ["LowN", "Bc", "LowN+Bc"], "paddingInner": 0, "paddingOuter": 0}, "axis": {"orient": "top", "title": null, "labelAngle": 0, "labelFontSize": 10.5, "labelFontWeight": "bold", "labelPadding": 4, "ticks": false, "domain": false, "labelColor": "#111"}},
                "y": {"field": "gene", "type": "nominal", "scale": {"domain": ["WRKY28","WRKY40","WRKY30","WRKY62","WRKY54","WRKY50","WRKY6","WRKY41","WRKY55","WRKY11","WRKY33","WRKY38","WRKY45","WRKY8","WRKY26","WRKY22","WRKY15","WRKY53","WRKY25","WRKY36","WRKY47","WRKY18","WRKY51","WRKY48","WRKY17","WRKY75","WRKY72","WRKY46","WRKY31","WRKY29"], "paddingInner": 0, "paddingOuter": 0}, "axis": {"title": null, "labelFontStyle": "italic", "labelFontSize": 10, "labelPadding": 4, "ticks": false, "domain": false, "labelColor": "#333"}}
              }
            },
            {
              "transform": [{"fold": ["LowN", "Bc", "LowN+Bc"], "as": ["col", "v"]}, {"filter": "datum.v != null"}],
              "mark": {"type": "rect"},
              "encoding": {
                "x": {"field": "col", "type": "nominal"},
                "y": {"field": "gene", "type": "nominal"},
                "color": {"field": "v", "type": "quantitative",
                          "scale": {"domain": [-4, 0, 4], "range": ["#2a8a3e", "#ffffff", "#cd1777"], "clamp": true, "interpolate": "rgb"},
                          "legend": {"orient": "none", "legendX": -23, "legendY": -52, "direction": "horizontal", "title": "Color Key", "titleFontSize": 7, "titleFontWeight": "bold", "titleAnchor": "middle", "titlePadding": 2, "gradientLength": 36, "gradientThickness": 7, "values": [-4, 0, 4], "labelExpr": "datum.value <= -4 ? '-4≤' : datum.value >= 4 ? '≥4' : '0'", "labelFontSize": 7, "labelOverlap": false, "gradientStrokeColor": "#555", "gradientStrokeWidth": 0.5}}
              }
            },
            {
              "mark": {"type": "text", "align": "left", "dx": 25, "fontSize": 11, "color": "#222"},
              "encoding": {
                "x": {"datum": "LowN+Bc", "type": "nominal"},
                "y": {"field": "gene", "type": "nominal"},
                "text": {"field": "cls"}
              }
            }
          ]
        }
      ]
    }
  ]
}
